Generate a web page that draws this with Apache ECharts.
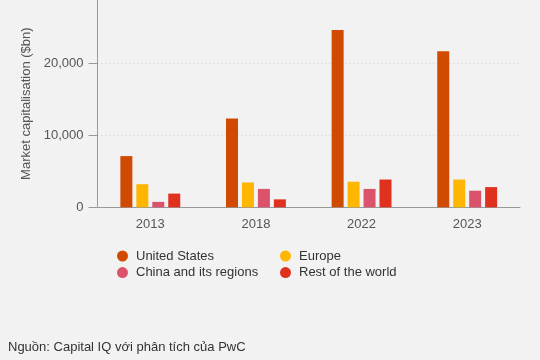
<!DOCTYPE html>
<html>
<head>
<meta charset="utf-8">
<script src="https://cdn.jsdelivr.net/npm/echarts@6/dist/echarts.min.js"></script>
<style>
html,body{margin:0;padding:0;background:#f2f2f2;}
#c{width:540px;height:360px;}
</style>
</head>
<body>
<div id="c"></div>
<script>
const categories = ['2013', '2018', '2022', '2023'];
const seriesNames = ['United States', 'Europe', 'China and its regions', 'Rest of the world'];
const unitedStates = [7100, 12300, 24600, 21650];
const europe = [3200, 3450, 3550, 3850];
const china = [750, 2550, 2550, 2300];
const restOfWorld = [1900, 1100, 3850, 2800];
const yTicks = [0, 10000, 20000];
const yMax = 28750;
const colors = ['#d04a02', '#ffb600', '#db536a', '#e0301e'];
const sourceText = 'Nguồn: Capital IQ với phân tích của PwC';
const yAxisName = 'Market capitalisation ($bn)';

const values = [unitedStates, europe, china, restOfWorld];
const FONT = '"Liberation Sans", Arial, Helvetica, sans-serif';

const chart = echarts.init(document.getElementById('c'));
chart.setOption({
  backgroundColor: '#f2f2f2',
  animation: false,
  textStyle: { fontFamily: FONT },
  grid: { left: 97.5, right: 20, top: 0, bottom: 152.7, containLabel: false },
  legend: [
    {
      data: [seriesNames[0], seriesNames[2]],
      orient: 'vertical', left: 112, top: 244.5,
      icon: 'circle', itemWidth: 17, itemHeight: 11, itemGap: 3.6,
      textStyle: { fontSize: 13, color: '#333', fontFamily: FONT, lineHeight: 13, padding: [0, 0, 0, 0] }
    },
    {
      data: [seriesNames[1], seriesNames[3]],
      orient: 'vertical', left: 275, top: 244.5,
      icon: 'circle', itemWidth: 17, itemHeight: 11, itemGap: 3.6,
      textStyle: { fontSize: 13, color: '#333', fontFamily: FONT, lineHeight: 13, padding: [0, 0, 0, 0] }
    }
  ],
  xAxis: {
    type: 'category',
    data: categories,
    axisLine: { lineStyle: { color: '#999', width: 1 } },
    axisTick: { show: false },
    axisLabel: { fontSize: 13, color: '#555', margin: 11, fontFamily: FONT }
  },
  yAxis: {
    type: 'value',
    min: 0, max: yMax,
    name: yAxisName,
    nameLocation: 'middle',
    nameGap: 58,
    nameTextStyle: { fontSize: 13, color: '#555', fontFamily: FONT },
    axisLine: { show: true, lineStyle: { color: '#999', width: 1 } },
    axisTick: { show: true, length: 9, lineStyle: { color: '#999' }, customValues: yTicks },
    axisLabel: {
      fontSize: 13, color: '#555', margin: 14, fontFamily: FONT,
      customValues: yTicks,
      formatter: v => v.toLocaleString('en-US')
    },
    splitLine: { show: true, lineStyle: { color: '#cfcfcf', type: [1, 3], width: 1 } }
  },
  series: seriesNames.map((n, i) => ({
    name: n,
    type: 'bar',
    data: values[i],
    barWidth: 12,
    barGap: '33%',
    itemStyle: { color: colors[i] }
  })),
  graphic: [
    {
      type: 'text', left: 8, top: 341,
      style: { text: sourceText, fontSize: 13, fill: '#333', font: '13px ' + FONT }
    }
  ]
});
</script>
</body>
</html>
